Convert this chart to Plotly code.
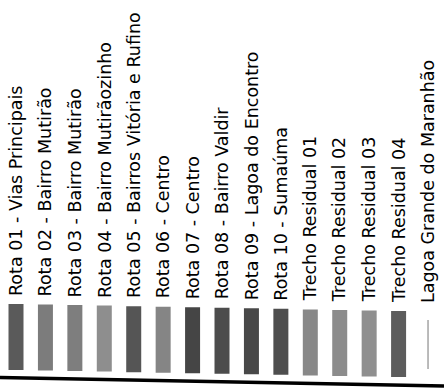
import plotly.graph_objects as go

labels = ['Rota 01 - Vias Principais', 'Rota 02 - Bairro Mutirão', 'Rota 03 - Bairro Mutirão',
          'Rota 04 - Bairro Mutirãozinho', 'Rota 05 - Bairros Vitória e Rufino', 'Rota 06 - Centro',
          'Rota 07 - Centro', 'Rota 08 - Bairro Valdir', 'Rota 09 - Lagoa do Encontro',
          'Rota 10 - Sumaúma', 'Trecho Residual 01', 'Trecho Residual 02',
          'Trecho Residual 03', 'Trecho Residual 04', 'Lagoa Grande do Maranhão']
swatch_colors = ['#5a5a5a', '#7c7c7c', '#7e7e7e', '#8e8e8e', '#555555', '#858585',
                 '#454545', '#4c4c4c', '#484848', '#4e4e4e', '#888888', '#8c8c8c',
                 '#8f8f8f', '#5c5c5c']
line_color = '#777777'

W, H = 444, 391
n = len(swatch_colors)
pos = list(range(len(labels)))
step = 29.43
x0 = -16 / step
tilt = 0.54          # the scanned page is a little skewed
sw_bottom = [370 + tilt * i for i in range(n)]   # y in page pixel rows
sw_height = 66

fig = go.Figure()
fig.add_trace(go.Bar(x=pos[:n], y=[-sw_height] * n, base=sw_bottom, width=0.51,
                     marker_color=swatch_colors, marker_line_width=0, hoverinfo='skip'))
# last entry is a line symbol, not a patch
fig.add_trace(go.Scatter(x=[pos[-1], pos[-1]], y=[369, 320], mode='lines',
                         line=dict(color=line_color, width=1), hoverinfo='skip'))

for i, lab in enumerate(labels):
    fig.add_annotation(x=i, y=370 - sw_height + tilt * i - 6, text=lab, textangle=-90,
                       showarrow=False, xanchor='center', yanchor='bottom',
                       font=dict(family='DejaVu Sans', size=17.5, color='black'))

fig.add_shape(type='line', xref='paper', yref='y', x0=0, x1=1, y0=377.5, y1=386,
              line=dict(color='black', width=3.5))

fig.update_layout(width=W, height=H, margin=dict(l=0, r=0, t=0, b=0),
                  paper_bgcolor='white', plot_bgcolor='white', showlegend=False,
                  xaxis=dict(range=[x0, x0 + W / step], visible=False),
                  yaxis=dict(range=[H, 0], visible=False))
fig.write_html('out.html', config={'displayModeBar': False},
               post_script="document.body.style.margin='0';")
